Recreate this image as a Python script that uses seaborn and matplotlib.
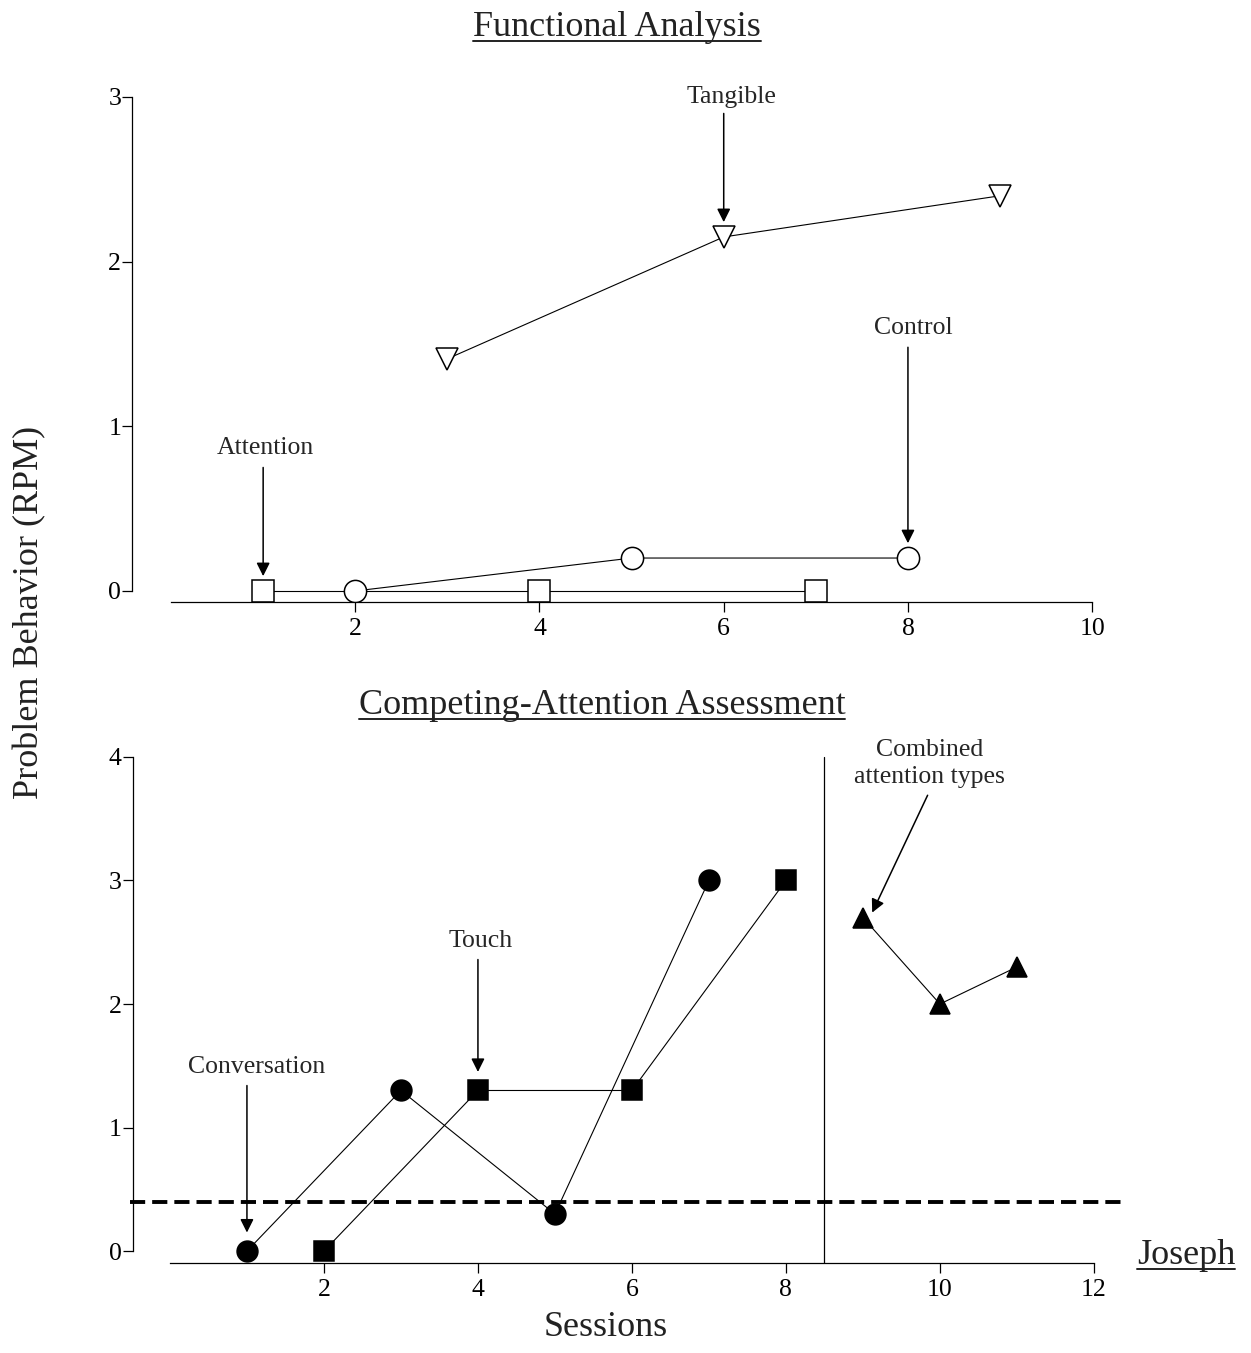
import numpy as np
import pandas as pd
import seaborn as sns
import matplotlib.pyplot as plt
from matplotlib.lines import Line2D

# functional analysis (top panel)
attention_x = [1, 4, 7]
attention_y = [0, 0, 0]
control_x = [2, 5, 8]
control_y = [0, 0.2, 0.2]
tangible_x = [3, 6, 9]
tangible_y = [1.41, 2.15, 2.4]

# competing-attention assessment (bottom panel)
conversation_x = [1, 3, 5, 7]
conversation_y = [0, 1.3, 0.3, 3]
touch_x = [2, 4, 6, 8]
touch_y = [0, 1.3, 1.3, 3]
combined_x = [9, 10, 11]
combined_y = [2.7, 2.0, 2.3]

criterion = 0.4
phase_change = 8.5

top_xticks = [2, 4, 6, 8, 10]
top_yticks = [0, 1, 2, 3]
bot_xticks = [2, 4, 6, 8, 10, 12]
bot_yticks = [0, 1, 2, 3, 4]

sns.set_style("ticks")
plt.rcParams["font.family"] = ["Liberation Serif", "DejaVu Serif"]
plt.rcParams["axes.linewidth"] = 0.9
plt.rcParams["xtick.major.width"] = 0.9
plt.rcParams["ytick.major.width"] = 0.9
plt.rcParams["xtick.major.size"] = 7
plt.rcParams["ytick.major.size"] = 7
plt.rcParams["xtick.color"] = "black"
plt.rcParams["ytick.color"] = "black"
plt.rcParams["axes.edgecolor"] = "black"

fig = plt.figure(figsize=(12.51, 13.53), dpi=100)
ax1 = fig.add_axes([0.1058, 0.5547, 0.7746, 0.3797])
ax2 = fig.add_axes([0.1063, 0.0662, 0.7743, 0.3789])

line_kw = dict(color="black", lw=0.8, markeredgecolor="black", markeredgewidth=1.1)


def series(ax, x, y, marker, size, face):
    df = pd.DataFrame({"x": x, "y": y})
    sns.lineplot(data=df, x="x", y="y", ax=ax, marker=marker, markersize=size,
                 markerfacecolor=face, **line_kw)


# top panel
series(ax1, attention_x, attention_y, "s", 15.5, "white")
series(ax1, control_x, control_y, "o", 16, "white")
series(ax1, tangible_x, tangible_y, "v", 16, "white")

ax1.set_xlim(-0.42, 10.1)
ax1.set_ylim(-0.07, 3.05)
ax1.set_xticks(top_xticks)
ax1.set_yticks(top_yticks)

# bottom panel
series(ax2, conversation_x, conversation_y, "o", 15, "black")
series(ax2, touch_x, touch_y, "s", 15, "black")
series(ax2, combined_x, combined_y, "^", 15, "black")

ax2.plot([phase_change, phase_change], [-0.1, 4], color="black", lw=0.9)
ax2.plot([-0.52, 12.4], [criterion, criterion], color="black", lw=2.8,
         ls=(0, (3.9, 1.8)), clip_on=False)

ax2.set_xlim(-0.48, 12.1)
ax2.set_ylim(-0.1, 4.05)
ax2.set_xticks(bot_xticks)
ax2.set_yticks(bot_yticks)

for ax, xb, yb in [(ax1, (0, 10), (0, 3)), (ax2, (0, 12), (0, 4))]:
    sns.despine(ax=ax)
    ax.spines["bottom"].set_bounds(*xb)
    ax.spines["left"].set_bounds(*yb)
    ax.set_xlabel("")
    ax.set_ylabel("")
    ax.tick_params(axis="both", labelsize=18.5)
    ax.tick_params(axis="x", pad=4)
    ax.tick_params(axis="y", pad=1)

arrow = dict(arrowstyle="-|>", color="black", lw=1.1, mutation_scale=20,
             shrinkA=0, shrinkB=0)
ann = dict(fontsize=18.5, ha="center", va="center")

ax1.annotate("", xy=(6, 2.24), xytext=(6, 2.9), arrowprops=arrow)
ax1.text(6.08, 3.0, "Tangible", **ann)
ax1.annotate("", xy=(8, 0.29), xytext=(8, 1.48), arrowprops=arrow)
ax1.text(8.06, 1.60, "Control", **ann)
ax1.annotate("", xy=(1, 0.09), xytext=(1, 0.75), arrowprops=arrow)
ax1.text(1.02, 0.87, "Attention", **ann)

ax2.annotate("", xy=(1, 0.15), xytext=(1, 1.34), arrowprops=arrow)
ax2.text(1.12, 1.49, "Conversation", **ann)
ax2.annotate("", xy=(4, 1.45), xytext=(4, 2.36), arrowprops=arrow)
ax2.text(4.03, 2.51, "Touch", **ann)
ax2.annotate("", xy=(9.12, 2.74), xytext=(9.84, 3.69), arrowprops=arrow)
ax2.text(9.87, 3.95, "Combined\nattention types", fontsize=18.5, ha="center",
         va="center", linespacing=1.3)

# figure-level text
H = 1353
W = 1251
t1 = fig.text(617 / W, 1 - 36 / H, "Functional Analysis", fontsize=26,
              ha="center", va="baseline", color="#222222")
t2 = fig.text(602 / W, 1 - 714 / H, "Competing-Attention Assessment", fontsize=26,
              ha="center", va="baseline", color="#222222")
t3 = fig.text(1186 / W, 1 - 1264 / H, "Joseph", fontsize=26,
              ha="center", va="baseline", color="#222222")
fig.text(606 / W, 1 - 1327 / H, "Sessions", fontsize=26, ha="center",
         va="center", color="#222222")
fig.text(30 / W, 1 - 612 / H, "Problem Behavior (RPM)", fontsize=26,
         ha="center", va="center", rotation=90, color="#222222")

# underline titles
renderer = fig.canvas.get_renderer()
for t, base in [(t1, 36), (t2, 714), (t3, 1264)]:
    bb = t.get_window_extent(renderer=renderer)
    y = 1 - (base + 5) / H
    fig.add_artist(Line2D([bb.x0 / W, bb.x1 / W], [y, y], color="#222222",
                          lw=1.4, transform=fig.transFigure))

fig.savefig("out.png", dpi=100)
